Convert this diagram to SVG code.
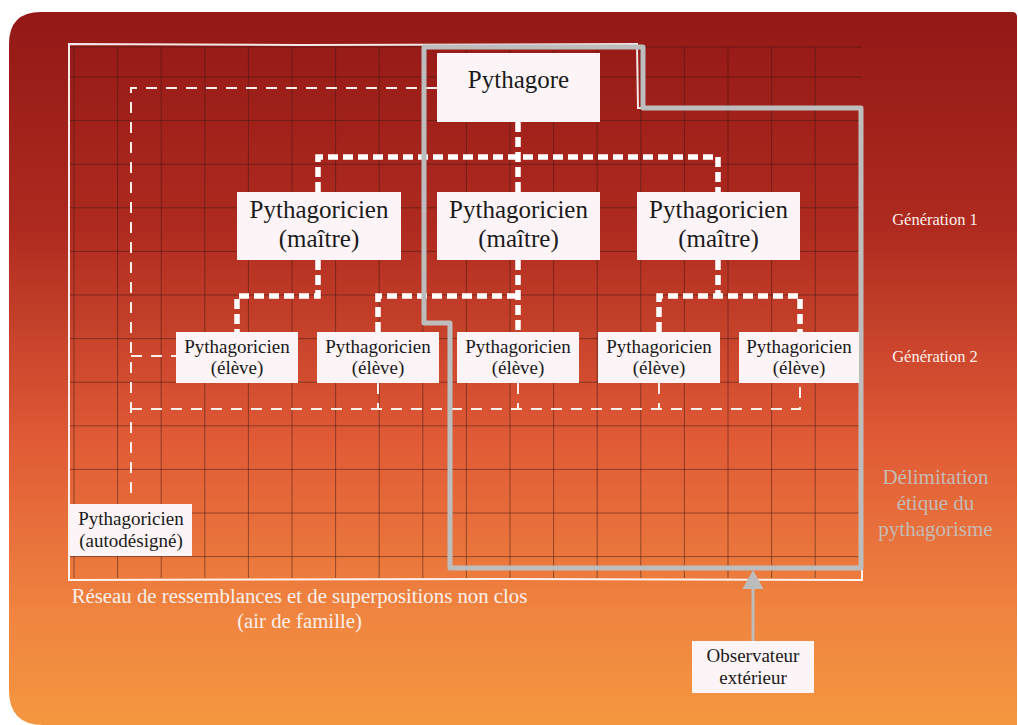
<svg xmlns="http://www.w3.org/2000/svg" width="1018" height="725" viewBox="0 0 1018 725">
<defs>
<linearGradient id="bg" x1="0" y1="0" x2="0" y2="1">
<stop offset="0" stop-color="#931816"/>
<stop offset="0.3" stop-color="#ae2a1f"/>
<stop offset="0.6" stop-color="#e05a36"/>
<stop offset="0.85" stop-color="#f08540"/>
<stop offset="1" stop-color="#f4963f"/>
</linearGradient>
<style>
.grid line{stroke:#3c1a14;stroke-opacity:0.5;stroke-width:1}
.box{fill:#fdf4f7}
.thick{fill:none;stroke:#ffffff;stroke-width:5.5;stroke-dasharray:10 5}
.thin{fill:none;stroke:#fbeee8;stroke-width:2;stroke-dasharray:11 9}
.t{font-family:"Liberation Serif","Times New Roman",serif;fill:#1a1a1a;text-anchor:middle}
.w{font-family:"Liberation Serif","Times New Roman",serif;fill:#fbefe9;text-anchor:middle}
.g{font-family:"Liberation Serif","Times New Roman",serif;fill:#c6bab4;text-anchor:middle}
.m{font-size:25px}
.s{font-size:19px}
</style>
</defs>
<path d="M9,44 Q9,12 41,12 H1012 Q1017,12 1017,17 V725 H43 Q9,725 9,690 Z" fill="url(#bg)"/>
<g class="grid">
<line x1="74" y1="47" x2="74" y2="578"/><line x1="117.6" y1="47" x2="117.6" y2="578"/><line x1="161.2" y1="47" x2="161.2" y2="578"/><line x1="204.8" y1="47" x2="204.8" y2="578"/><line x1="248.4" y1="47" x2="248.4" y2="578"/><line x1="292" y1="47" x2="292" y2="578"/><line x1="335.6" y1="47" x2="335.6" y2="578"/><line x1="379.2" y1="47" x2="379.2" y2="578"/><line x1="422.8" y1="47" x2="422.8" y2="578"/><line x1="466.4" y1="47" x2="466.4" y2="578"/><line x1="510" y1="47" x2="510" y2="578"/><line x1="553.6" y1="47" x2="553.6" y2="578"/><line x1="597.2" y1="47" x2="597.2" y2="578"/><line x1="640.8" y1="47" x2="640.8" y2="578"/><line x1="684.4" y1="47" x2="684.4" y2="578"/><line x1="728" y1="47" x2="728" y2="578"/><line x1="771.6" y1="47" x2="771.6" y2="578"/><line x1="815.2" y1="47" x2="815.2" y2="578"/>
<line x1="69" y1="47" x2="862" y2="47"/><line x1="69" y1="77" x2="862" y2="77"/><line x1="69" y1="120.6" x2="862" y2="120.6"/><line x1="69" y1="164.2" x2="862" y2="164.2"/><line x1="69" y1="207.8" x2="862" y2="207.8"/><line x1="69" y1="251.4" x2="862" y2="251.4"/><line x1="69" y1="295" x2="862" y2="295"/><line x1="69" y1="338.6" x2="862" y2="338.6"/><line x1="69" y1="382.2" x2="862" y2="382.2"/><line x1="69" y1="425.8" x2="862" y2="425.8"/><line x1="69" y1="469.4" x2="862" y2="469.4"/><line x1="69" y1="513" x2="862" y2="513"/><line x1="69" y1="556.6" x2="862" y2="556.6"/>
</g>
<path d="M69,44 L300,45 L637,44 L638,108 L862,108 L862,580 L500,579 L69,580 Z" fill="none" stroke="#ffffff" stroke-opacity="0.9" stroke-width="2"/>
<g id="connectors">
<path class="thin" d="M437,88 H131 V502"/>
<path class="thin" d="M131,356 H176"/>
<path class="thin" d="M131,409 H800 V383"/>
<path class="thin" d="M378,383 V409"/>
<path class="thin" d="M518,383 V409"/>
<path class="thin" d="M659,383 V409"/>
<path class="thick" d="M518,122 V192"/>
<path class="thick" d="M318,192 V157 H718 V192"/>
<path class="thick" d="M318,260 V296 H237 V332"/>
<path class="thick" d="M518,260 V332"/>
<path class="thick" d="M378,332 V296 H518"/>
<path class="thick" d="M718,260 V296"/>
<path class="thick" d="M659,332 V296 H800 V332"/>
<line x1="753" y1="641" x2="753" y2="586" stroke="#bcbcbc" stroke-width="3"/>
<polygon points="753,570 742.5,589 763.5,589" fill="#bcbcbc"/>
</g>
<path id="delimitation" d="M424,47 H643 V108 H861 V568 H450 V323 H424 Z" fill="none" stroke="#bdbdbd" stroke-width="5" stroke-linejoin="round"/>
<g id="pythagore"><rect class="box" x="437" y="53" width="163" height="69"/><text class="t m" x="518.5" y="88">Pythagore</text></g>
<g id="maitre1"><rect class="box" x="237" y="192" width="164" height="68"/><text class="t m" x="319" y="218">Pythagoricien</text><text class="t m" x="319" y="247">(maître)</text></g>
<g id="maitre2"><rect class="box" x="437" y="192" width="163" height="68"/><text class="t m" x="518.5" y="218">Pythagoricien</text><text class="t m" x="518.5" y="247">(maître)</text></g>
<g id="maitre3"><rect class="box" x="637" y="192" width="163" height="68"/><text class="t m" x="718.5" y="218">Pythagoricien</text><text class="t m" x="718.5" y="247">(maître)</text></g>
<g id="eleve1"><rect class="box" x="176" y="332" width="122" height="51"/><text class="t s" x="237" y="353">Pythagoricien</text><text class="t s" x="237" y="374">(élève)</text></g>
<g id="eleve2"><rect class="box" x="317" y="332" width="122" height="51"/><text class="t s" x="378" y="353">Pythagoricien</text><text class="t s" x="378" y="374">(élève)</text></g>
<g id="eleve3"><rect class="box" x="457" y="332" width="122" height="51"/><text class="t s" x="518" y="353">Pythagoricien</text><text class="t s" x="518" y="374">(élève)</text></g>
<g id="eleve4"><rect class="box" x="598" y="332" width="122" height="51"/><text class="t s" x="659" y="353">Pythagoricien</text><text class="t s" x="659" y="374">(élève)</text></g>
<g id="eleve5"><rect class="box" x="739" y="332" width="120" height="51"/><text class="t s" x="799" y="353">Pythagoricien</text><text class="t s" x="799" y="374">(élève)</text></g>
<g id="autodesigne"><rect class="box" x="70" y="504" width="122" height="52"/><text class="t s" x="131" y="525">Pythagoricien</text><text class="t s" x="131" y="547">(autodésigné)</text></g>
<g id="observateur"><rect class="box" x="692" y="641" width="122" height="52"/><text class="t s" x="753" y="662">Observateur</text><text class="t s" x="753" y="684">extérieur</text></g>
<g id="labels">
<text class="w" x="935" y="225" font-size="16.5">Génération 1</text>
<text class="w" x="935" y="362" font-size="16.5">Génération 2</text>
<text class="g" x="935.5" y="484" font-size="21">Délimitation</text>
<text class="g" x="935.5" y="510" font-size="21">étique du</text>
<text class="g" x="935.5" y="536" font-size="21">pythagorisme</text>
<text class="w" x="299.5" y="603" font-size="20.8">Réseau de ressemblances et de superpositions non clos</text>
<text class="w" x="299.5" y="628" font-size="20.8">(air de famille)</text>
</g>
</svg>
